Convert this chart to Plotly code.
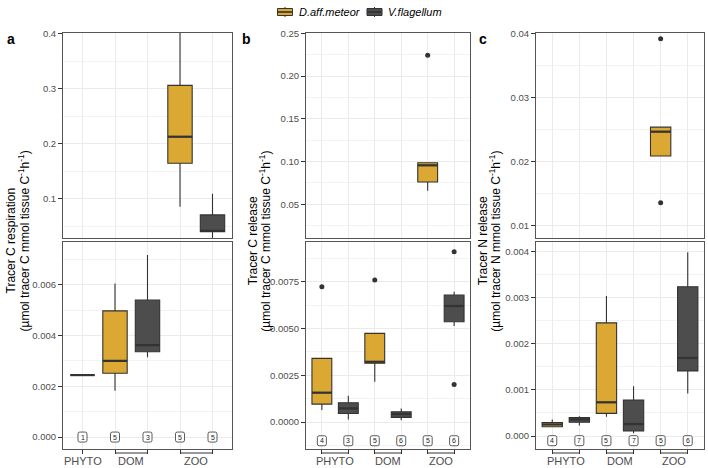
import plotly.graph_objects as go

# ---------------- DATA ----------------
SPECIES = ["D.aff.meteor", "V.flagellum"]
COLORS = {"D.aff.meteor": "#DBA933", "V.flagellum": "#4D4D4D"}

# Panel a: Tracer C respiration
a_group = ["PHYTO", "DOM", "DOM", "ZOO", "ZOO"]
a_species = ["D.aff.meteor", "D.aff.meteor", "V.flagellum", "D.aff.meteor", "V.flagellum"]
a_lower = [0.00244, 0.00182, 0.00314, 0.0855, 0.020]
a_q1 = [0.00244, 0.00251, 0.00336, 0.1644, 0.040]
a_median = [0.00244, 0.00300, 0.00362, 0.2127, 0.0415]
a_q3 = [0.00244, 0.00497, 0.00539, 0.306, 0.0705]
a_upper = [0.00244, 0.00605, 0.00717, 0.46, 0.109]
a_n = [1, 5, 3, 5, 5]
a_outlier_box = []
a_outlier_value = []

# Panel b: Tracer C release
b_group = ["PHYTO", "PHYTO", "DOM", "DOM", "ZOO", "ZOO"]
b_species = ["D.aff.meteor", "V.flagellum"] * 3
b_lower = [0.00064, 0.00014, 0.00215, 0.00010, 0.0659, 0.00513]
b_q1 = [0.00096, 0.00046, 0.00314, 0.00025, 0.0761, 0.00536]
b_median = [0.00157, 0.00073, 0.00322, 0.00043, 0.0956, 0.00620]
b_q3 = [0.00340, 0.00103, 0.00474, 0.00055, 0.0987, 0.00678]
b_upper = [0.00340, 0.00140, 0.00474, 0.00073, 0.0987, 0.00696]
b_n = [4, 3, 5, 6, 5, 6]
b_outlier_box = [1, 3, 5, 6, 6]
b_outlier_value = [0.00723, 0.00759, 0.2243, 0.0091, 0.00201]

# Panel c: Tracer N release
c_group = ["PHYTO", "PHYTO", "DOM", "DOM", "ZOO", "ZOO"]
c_species = ["D.aff.meteor", "V.flagellum"] * 3
c_lower = [0.00019, 0.00023, 0.00042, 0.00006, 0.0209, 0.00092]
c_q1 = [0.00020, 0.00030, 0.00049, 0.00011, 0.0209, 0.00141]
c_median = [0.00025, 0.00036, 0.00073, 0.00026, 0.0247, 0.00169]
c_q3 = [0.00029, 0.00040, 0.00245, 0.00078, 0.0254, 0.00323]
c_upper = [0.00036, 0.00043, 0.00303, 0.00108, 0.0254, 0.00398]
c_n = [4, 7, 5, 7, 5, 6]
c_outlier_box = [5, 5]
c_outlier_value = [0.0392, 0.0136]

# ---------------- LAYOUT CONFIG ----------------
W, H = 708, 468
FONT = "Liberation Sans, Arial, sans-serif"
LINE = "#333333"
TICKCOL = "#4D4D4D"


def fx(p):
    return p / W


def fy(p):
    return 1 - p / H


panels = [
    dict(letter="a", x0=63, x1=232, title_x=(10.5, 23.5), letter_x=11,
         title=("Tracer C respiration",
                "(µmol tracer C mmol tissue C<sup>-1</sup>h<sup>-1</sup>)"),
         top_range=[0.0285, 0.4013], top_dtick=0.1, top_fmt=".1f",
         bot_range=[-0.00047, 0.00768], bot_dtick=0.002, bot_fmt=".3f", label_y=0.0,
         data=(a_group, a_species, a_lower, a_q1, a_median, a_q3, a_upper, a_n,
               a_outlier_box, a_outlier_value)),
    dict(letter="b", x0=306, x1=470, title_x=(253.3, 264.7), letter_x=247,
         title=("Tracer C release",
                "(µmol tracer C mmol tissue C<sup>-1</sup>h<sup>-1</sup>)"),
         top_range=[0.0106, 0.2504], top_dtick=0.05, top_fmt=".2f",
         bot_range=[-0.00144, 0.00962], bot_dtick=0.0025, bot_fmt=".4f", label_y=-0.001,
         data=(b_group, b_species, b_lower, b_q1, b_median, b_q3, b_upper, b_n,
               b_outlier_box, b_outlier_value)),
    dict(letter="c", x0=536, x1=704, title_x=(483.3, 494.7), letter_x=483,
         title=("Tracer N release",
                "(µmol tracer N mmol tissue C<sup>-1</sup>h<sup>-1</sup>)"),
         top_range=[0.0081, 0.0401], top_dtick=0.01, top_fmt=".2f",
         bot_range=[-0.00028, 0.0042], bot_dtick=0.001, bot_fmt=".3f", label_y=-0.0001,
         data=(c_group, c_species, c_lower, c_q1, c_median, c_q3, c_upper, c_n,
               c_outlier_box, c_outlier_value)),
]

BOX_W = 0.75
fig = go.Figure()
layout = {}
shapes = []
annotations = []

for i, cfg in enumerate(panels):
    group, species, lower, q1, med, q3, upper, n, out_box, out_val = cfg["data"]
    pos = list(range(1, len(group) + 1))
    for row in (0, 1):
        k = 2 * i + row + 1
        sfx = "" if k == 1 else str(k)
        xr, yr = "x" + sfx, "y" + sfx
        if row == 0:
            ydom = [fy(238), fy(33)]
            rng, dt, fmt = cfg["top_range"], cfg["top_dtick"], cfg["top_fmt"]
        else:
            ydom = [fy(449), fy(242)]
            rng, dt, fmt = cfg["bot_range"], cfg["bot_dtick"], cfg["bot_fmt"]
        # boxes
        for sp in SPECIES:
            idx = [j for j in range(len(pos)) if species[j] == sp]
            fig.add_trace(go.Box(
                x=[pos[j] for j in idx],
                q1=[q1[j] for j in idx], median=[med[j] for j in idx],
                q3=[q3[j] for j in idx], lowerfence=[lower[j] for j in idx],
                upperfence=[upper[j] for j in idx],
                width=BOX_W, whiskerwidth=0, boxpoints=False,
                fillcolor=COLORS[sp], line=dict(color=LINE, width=1.1),
                name=sp, legendgroup=sp, showlegend=False,
                xaxis=xr, yaxis=yr, hoverinfo="skip"))
        # thick median lines
        mx, my = [], []
        for j, p in enumerate(pos):
            mx += [p - BOX_W / 2, p + BOX_W / 2, None]
            my += [med[j], med[j], None]
        fig.add_trace(go.Scatter(x=mx, y=my, mode="lines",
                                 line=dict(color=LINE, width=2.2),
                                 showlegend=False, hoverinfo="skip",
                                 xaxis=xr, yaxis=yr))
        # outliers (only those inside this segment of the broken axis)
        ox = [b for b, v in zip(out_box, out_val) if rng[0] <= v <= rng[1]]
        oy = [v for v in out_val if rng[0] <= v <= rng[1]]
        if ox:
            fig.add_trace(go.Scatter(x=ox, y=oy, mode="markers",
                                     marker=dict(color=LINE, size=5),
                                     showlegend=False, hoverinfo="skip",
                                     xaxis=xr, yaxis=yr))
        # axes
        layout["xaxis" + sfx] = dict(
            domain=[fx(cfg["x0"]), fx(cfg["x1"])], anchor=yr, automargin=False,
            range=[0.4, len(pos) + 0.6], tickvals=pos, showticklabels=False,
            ticks="outside" if row == 1 else "", ticklen=4, tickcolor=LINE,
            showgrid=True, gridcolor="#EBEBEB", gridwidth=1,
            showline=True, mirror=True, linecolor="#555555", linewidth=1,
            zeroline=False, fixedrange=True)
        layout["yaxis" + sfx] = dict(
            domain=ydom, anchor=xr, automargin=False,
            range=rng, tick0=0, dtick=dt, tickformat=fmt,
            ticks="outside", ticklen=4, tickcolor=LINE,
            tickfont=dict(size=9.5, color=TICKCOL, family=FONT),
            showgrid=True, gridcolor="#EBEBEB", gridwidth=1,
            minor=dict(dtick=dt / 2, tick0=0, showgrid=True,
                       gridcolor="#F3F3F3", gridwidth=0.6, ticks=""),
            showline=True, mirror=True, linecolor="#555555", linewidth=1,
            zeroline=False, fixedrange=True)
        if row == 1:
            # count labels with rounded boxes
            r, hw, hh = 1.8, 4.5, 5.0
            path = (f"M {-hw + r},{-hh} L {hw - r},{-hh} Q {hw},{-hh} {hw},{-hh + r} "
                    f"L {hw},{hh - r} Q {hw},{hh} {hw - r},{hh} L {-hw + r},{hh} "
                    f"Q {-hw},{hh} {-hw},{hh - r} L {-hw},{-hh + r} Q {-hw},{-hh} {-hw + r},{-hh} Z")
            for j, p in enumerate(pos):
                shapes.append(dict(type="path", xref=xr, yref=yr,
                                   xsizemode="pixel", ysizemode="pixel",
                                   xanchor=p, yanchor=cfg["label_y"], path=path,
                                   fillcolor="white", line=dict(color=LINE, width=0.8),
                                   layer="above"))
                annotations.append(dict(x=p, y=cfg["label_y"], xref=xr, yref=yr,
                                        text=str(n[j]), showarrow=False,
                                        font=dict(size=7, color="#222222", family=FONT)))
            # nested group axis: brackets + labels
            groups = []
            for j, g in enumerate(group):
                if not groups or groups[-1][0] != g:
                    groups.append([g, pos[j], pos[j]])
                else:
                    groups[-1][2] = pos[j]
            for g, p0, p1 in groups:
                if p1 > p0:
                    shapes.append(dict(type="line", xref=xr, yref="paper",
                                       x0=p0, x1=p1, y0=fy(453), y1=fy(453),
                                       line=dict(color=LINE, width=1)))
                annotations.append(dict(x=(p0 + p1) / 2, y=fy(460.5), xref=xr,
                                        yref="paper", text=g, showarrow=False,
                                        yanchor="middle",
                                        font=dict(size=11, color=TICKCOL, family=FONT)))
    # y title (two lines, ggplot-like spacing)
    for tx, tt in zip(cfg["title_x"], cfg["title"]):
        annotations.append(dict(x=fx(tx), y=fy(241), xref="paper", yref="paper",
                                text=tt, textangle=-90, showarrow=False,
                                xanchor="center", yanchor="middle",
                                font=dict(size=12, color="black", family=FONT)))
    # panel letter
    annotations.append(dict(x=fx(cfg["letter_x"]), y=fy(39), xref="paper", yref="paper",
                            text=f"<b>{cfg['letter']}</b>", showarrow=False,
                            xanchor="center", yanchor="middle",
                            font=dict(size=14, color="black", family=FONT)))

# ---------------- LEGEND (ggplot-style boxplot keys) ----------------
legend_key_x = {"D.aff.meteor": 285.0, "V.flagellum": 374.5}
legend_text_x = {"D.aff.meteor": 297.0, "V.flagellum": 385.5}
LEG_Y = 12.0
for sp in SPECIES:
    cx = legend_key_x[sp]
    shapes.append(dict(type="line", xref="paper", yref="paper",
                       x0=fx(cx), x1=fx(cx), y0=fy(LEG_Y - 5), y1=fy(LEG_Y + 5),
                       line=dict(color=LINE, width=1)))
    shapes.append(dict(type="rect", xref="paper", yref="paper",
                       x0=fx(cx - 7.5), x1=fx(cx + 7.5), y0=fy(LEG_Y - 3.5), y1=fy(LEG_Y + 3.5),
                       fillcolor=COLORS[sp], line=dict(color=LINE, width=1)))
    shapes.append(dict(type="line", xref="paper", yref="paper",
                       x0=fx(cx - 7.5), x1=fx(cx + 7.5), y0=fy(LEG_Y), y1=fy(LEG_Y),
                       line=dict(color=LINE, width=1.6)))
    annotations.append(dict(x=fx(legend_text_x[sp]), y=fy(LEG_Y), xref="paper", yref="paper",
                            text=f"<i>{sp}</i>", showarrow=False, xanchor="left",
                            yanchor="middle",
                            font=dict(size=11, color="black", family=FONT)))

fig.update_layout(template="none")
fig.update_layout(**layout)
fig.update_layout(
    width=W, height=H, margin=dict(l=0, r=0, t=0, b=0, pad=0),
    paper_bgcolor="white", plot_bgcolor="white",
    font=dict(family=FONT, size=12, color="black"),
    shapes=shapes, annotations=annotations,
    boxmode="overlay", showlegend=False,
)

fig.write_html("out.html", config={"displayModeBar": False},
               post_script="document.body.style.margin='0';document.body.style.padding='0';")
